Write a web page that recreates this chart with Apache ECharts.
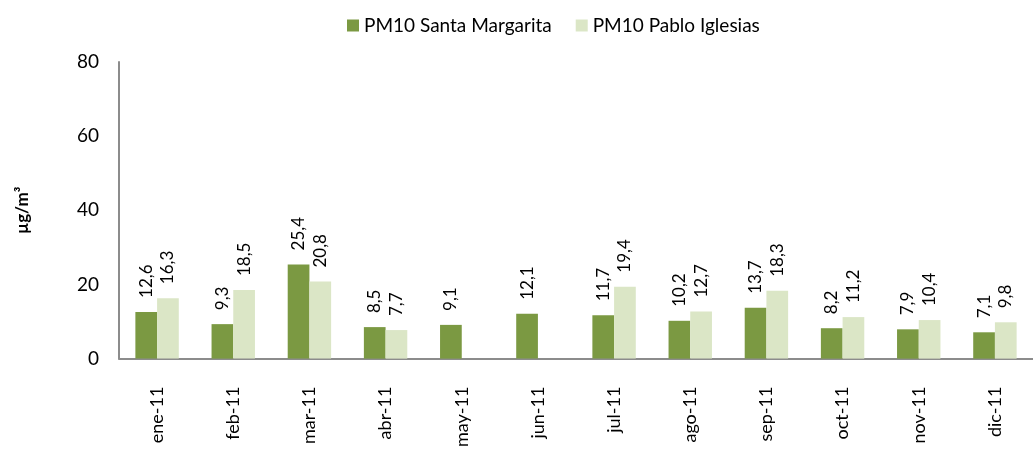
<!DOCTYPE html>
<html>
<head>
<meta charset="utf-8">
<script src="https://cdn.jsdelivr.net/npm/echarts@6/dist/echarts.min.js"></script>
<style>
  html, body { margin: 0; padding: 0; background: #fff; }
  #chart { width: 1033px; height: 450px; }
</style>
</head>
<body>
<div id="chart"></div>
<script>
const months = ['ene-11', 'feb-11', 'mar-11', 'abr-11', 'may-11', 'jun-11',
    'jul-11', 'ago-11', 'sep-11', 'oct-11', 'nov-11', 'dic-11'];
const santaMargarita = [12.6, 9.3, 25.4, 8.5, 9.1, 12.1, 11.7, 10.2, 13.7, 8.2, 7.9, 7.1];
const pabloIglesias = [16.3, 18.5, 20.8, 7.7, null, null, 19.4, 12.7, 18.3, 11.2, 10.4, 9.8];
const yTicks = [0, 20, 40, 60, 80];

const font = 'Lato';

// etiqueta vertical encima de cada barra, con coma decimal
const barLabel = {
    show: true,
    position: 'top',
    rotate: 90,
    align: 'left',
    verticalAlign: 'middle',
    distance: 14,
    fontFamily: font,
    fontSize: 17,
    color: '#000',
    formatter: function (p) {
        return p.value == null ? '' : String(p.value).replace('.', ',');
    }
};

const chart = echarts.init(document.getElementById('chart'));
chart.setOption({
    animation: false,
    textStyle: { fontFamily: font },
    legend: {
        top: 11,
        left: 342,
        itemWidth: 12,
        itemHeight: 12,
        itemGap: 24,
        icon: 'rect',
        textStyle: { fontFamily: font, fontSize: 19, color: '#000' },
        data: ['PM10 Santa Margarita', 'PM10 Pablo Iglesias']
    },
    grid: {
        left: 119,
        top: 62,
        width: 930,
        bottom: 90
    },
    xAxis: {
        type: 'category',
        data: months,
        axisTick: { show: false },
        axisLine: { lineStyle: { color: '#8c8c8c', width: 2 } },
        axisLabel: {
            rotate: 90,
            margin: 28,
            interval: 0,
            fontFamily: font,
            fontSize: 18,
            color: '#000'
        }
    },
    yAxis: {
        type: 'value',
        min: yTicks[0],
        max: yTicks[yTicks.length - 1],
        interval: 20,
        name: 'µg/m³',
        nameLocation: 'middle',
        nameGap: 88,
        nameTextStyle: { fontFamily: font, fontSize: 17, fontWeight: 'bold', color: '#000' },
        splitLine: { show: false },
        axisTick: { show: false },
        axisLine: { show: true, lineStyle: { color: '#8c8c8c', width: 2 } },
        axisLabel: { margin: 20, fontFamily: font, fontSize: 19, color: '#000' }
    },
    series: [
        {
            name: 'PM10 Santa Margarita',
            type: 'bar',
            data: santaMargarita,
            barGap: '0%',
            barCategoryGap: '43%',
            itemStyle: { color: '#7b9942' },
            label: barLabel
        },
        {
            name: 'PM10 Pablo Iglesias',
            type: 'bar',
            data: pabloIglesias,
            itemStyle: { color: '#dbe6c6' },
            label: barLabel
        }
    ]
});
</script>
</body>
</html>
